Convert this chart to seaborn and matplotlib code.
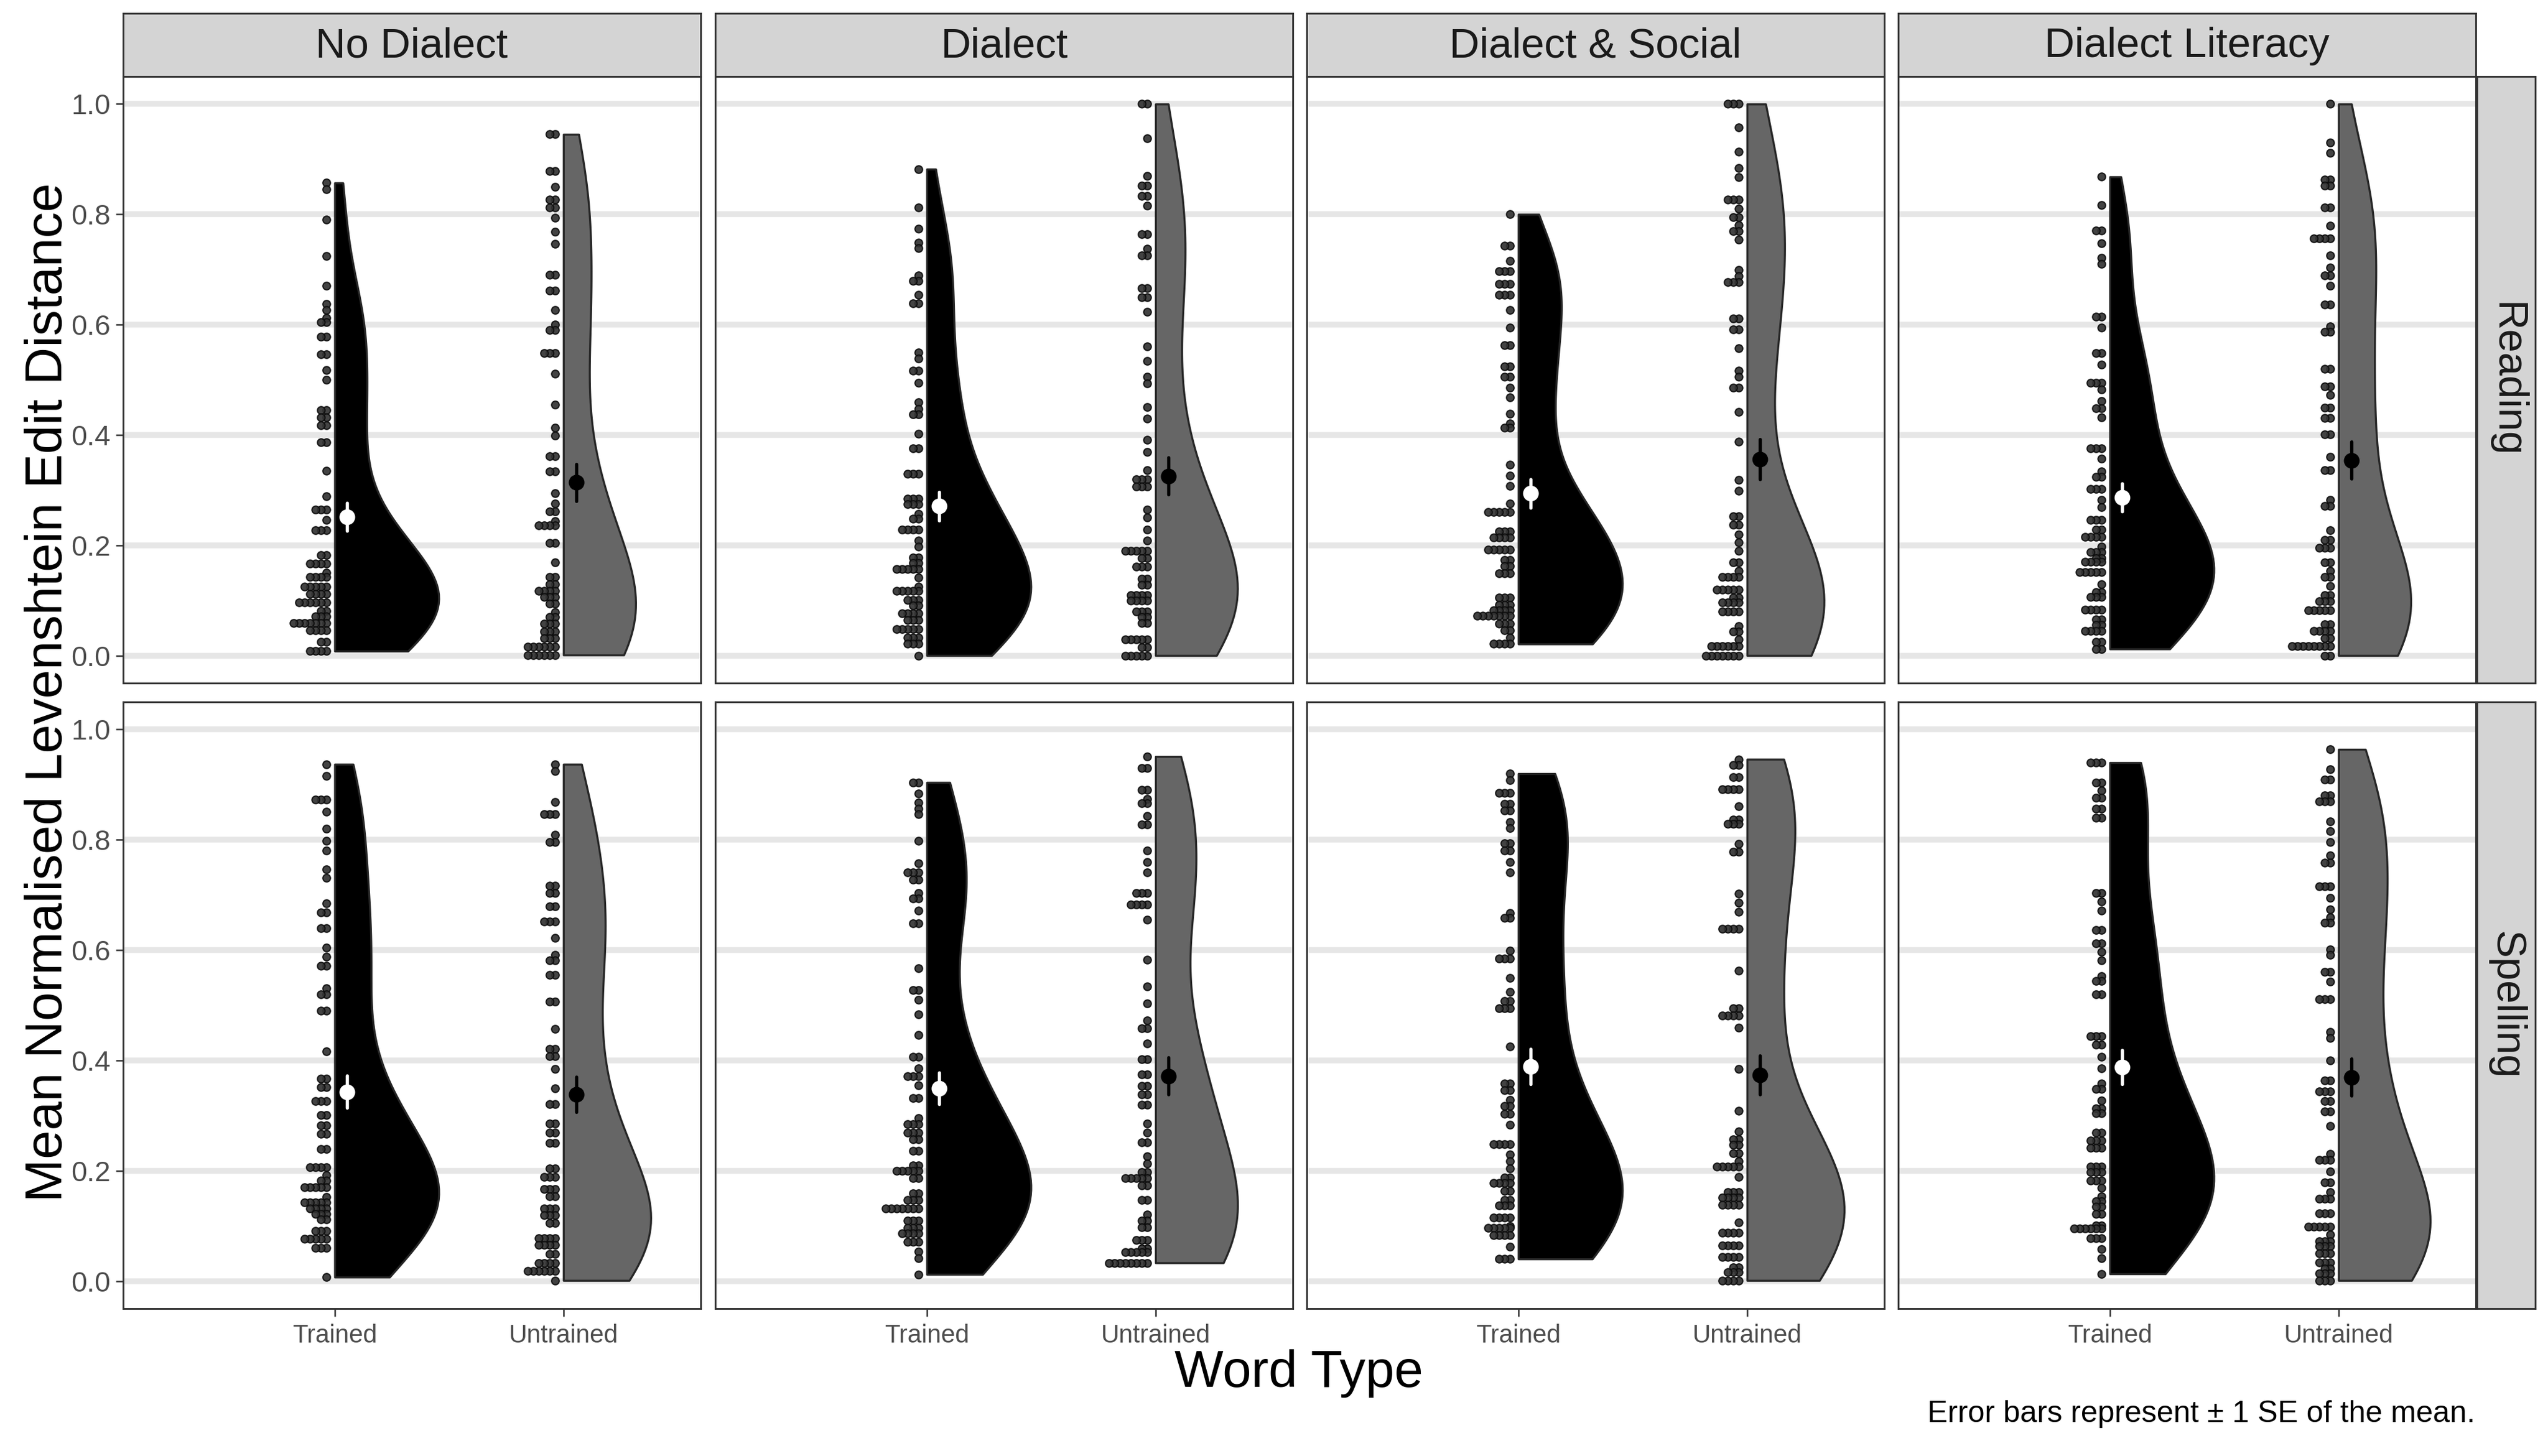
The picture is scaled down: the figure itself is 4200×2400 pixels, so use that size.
import numpy as np
import pandas as pd
import matplotlib.pyplot as plt
from matplotlib.ticker import FixedLocator
import seaborn as sns

conditions = ['No Dialect', 'Dialect', 'Dialect & Social', 'Dialect Literacy']
tasks = ['Reading', 'Spelling']
word_types = ['Trained', 'Untrained']

# each group: distinct scores (as binned in the dot stacks) and how many dots sit at each
nd_read_tr_vals = [0.857, 0.845, 0.790, 0.724, 0.671, 0.637, 0.626, 0.612, 0.605, 0.578, 0.546, 0.518, 0.500, 0.445, 0.432, 0.417, 0.387, 0.335, 0.289, 0.265, 0.246, 0.227, 0.182, 0.167, 0.150, 0.143, 0.125, 0.112, 0.096, 0.081, 0.071, 0.059, 0.046, 0.025, 0.008]
nd_read_tr_n = [1, 1, 1, 1, 1, 1, 1, 1, 2, 2, 2, 1, 1, 2, 2, 2, 2, 1, 1, 3, 1, 3, 2, 4, 1, 4, 5, 4, 6, 2, 3, 7, 4, 2, 4]
nd_read_un_vals = [0.945, 0.878, 0.850, 0.827, 0.812, 0.794, 0.768, 0.746, 0.690, 0.662, 0.626, 0.600, 0.590, 0.548, 0.511, 0.455, 0.413, 0.399, 0.361, 0.334, 0.294, 0.276, 0.261, 0.244, 0.236, 0.204, 0.169, 0.143, 0.129, 0.117, 0.106, 0.094, 0.079, 0.070, 0.058, 0.044, 0.031, 0.016, 0.001]
nd_read_un_n = [2, 2, 1, 2, 2, 1, 1, 1, 2, 2, 1, 1, 2, 3, 1, 1, 1, 1, 2, 2, 1, 1, 2, 1, 4, 2, 1, 2, 2, 4, 3, 2, 1, 2, 3, 3, 3, 6, 6]

di_read_tr_vals = [0.882, 0.812, 0.774, 0.749, 0.739, 0.689, 0.679, 0.654, 0.639, 0.549, 0.539, 0.516, 0.494, 0.459, 0.447, 0.437, 0.402, 0.376, 0.329, 0.284, 0.274, 0.257, 0.248, 0.228, 0.209, 0.198, 0.178, 0.168, 0.157, 0.141, 0.125, 0.117, 0.101, 0.091, 0.076, 0.064, 0.048, 0.033, 0.021, 0.000]
di_read_tr_n = [1, 1, 1, 1, 1, 1, 2, 1, 2, 1, 1, 2, 1, 1, 1, 2, 1, 2, 3, 3, 3, 1, 2, 4, 1, 1, 2, 2, 5, 1, 1, 5, 3, 2, 4, 3, 5, 3, 3, 1]
di_read_un_vals = [1.000, 0.938, 0.870, 0.852, 0.833, 0.816, 0.764, 0.738, 0.725, 0.666, 0.650, 0.623, 0.560, 0.534, 0.505, 0.493, 0.451, 0.430, 0.391, 0.369, 0.336, 0.320, 0.306, 0.265, 0.250, 0.228, 0.208, 0.190, 0.177, 0.161, 0.139, 0.128, 0.110, 0.100, 0.080, 0.070, 0.059, 0.029, 0.015, 0.000]
di_read_un_n = [2, 1, 1, 2, 2, 1, 2, 1, 2, 2, 2, 1, 1, 1, 1, 1, 1, 1, 1, 1, 1, 3, 3, 1, 1, 1, 1, 5, 2, 3, 2, 2, 4, 4, 3, 2, 2, 5, 2, 5]

ds_read_tr_vals = [0.800, 0.743, 0.716, 0.697, 0.674, 0.654, 0.627, 0.595, 0.563, 0.524, 0.506, 0.486, 0.468, 0.438, 0.421, 0.413, 0.346, 0.326, 0.307, 0.276, 0.260, 0.225, 0.214, 0.192, 0.173, 0.162, 0.149, 0.105, 0.092, 0.082, 0.072, 0.058, 0.046, 0.032, 0.021]
ds_read_tr_n = [1, 2, 1, 3, 3, 3, 1, 1, 2, 2, 2, 1, 1, 1, 1, 2, 1, 1, 1, 1, 5, 3, 4, 5, 2, 2, 3, 3, 3, 4, 7, 3, 2, 1, 4]
ds_read_un_vals = [1.000, 0.958, 0.914, 0.884, 0.867, 0.827, 0.810, 0.795, 0.781, 0.770, 0.754, 0.699, 0.688, 0.677, 0.611, 0.591, 0.557, 0.517, 0.505, 0.486, 0.442, 0.388, 0.319, 0.299, 0.253, 0.237, 0.220, 0.205, 0.190, 0.169, 0.153, 0.143, 0.119, 0.105, 0.096, 0.080, 0.053, 0.043, 0.029, 0.017, 0.000]
ds_read_un_n = [3, 1, 1, 1, 1, 3, 1, 2, 1, 2, 1, 1, 1, 3, 2, 2, 1, 1, 1, 2, 1, 1, 1, 1, 2, 2, 1, 1, 1, 2, 1, 4, 5, 2, 4, 4, 1, 2, 1, 6, 7]

dl_read_tr_vals = [0.868, 0.817, 0.771, 0.748, 0.721, 0.710, 0.614, 0.595, 0.548, 0.528, 0.495, 0.482, 0.461, 0.448, 0.432, 0.376, 0.357, 0.334, 0.324, 0.302, 0.282, 0.269, 0.246, 0.228, 0.215, 0.197, 0.188, 0.177, 0.170, 0.151, 0.129, 0.115, 0.106, 0.083, 0.065, 0.056, 0.045, 0.025, 0.012]
dl_read_tr_n = [1, 1, 2, 1, 1, 1, 2, 1, 2, 1, 3, 1, 1, 2, 1, 3, 1, 1, 2, 3, 1, 1, 3, 2, 4, 1, 3, 2, 4, 5, 1, 2, 3, 4, 2, 2, 4, 2, 2]
dl_read_un_vals = [1.000, 0.930, 0.911, 0.863, 0.852, 0.812, 0.779, 0.756, 0.725, 0.703, 0.689, 0.670, 0.636, 0.597, 0.587, 0.520, 0.488, 0.473, 0.449, 0.431, 0.401, 0.360, 0.336, 0.282, 0.271, 0.227, 0.210, 0.195, 0.169, 0.153, 0.142, 0.126, 0.110, 0.098, 0.082, 0.057, 0.045, 0.031, 0.017, 0.000]
dl_read_un_n = [1, 1, 1, 2, 2, 2, 1, 4, 1, 1, 2, 1, 2, 1, 2, 2, 2, 1, 2, 2, 2, 1, 2, 1, 2, 1, 2, 3, 2, 1, 2, 1, 2, 3, 5, 2, 4, 2, 8, 2]

nd_spell_tr_vals = [0.937, 0.916, 0.873, 0.851, 0.820, 0.798, 0.781, 0.746, 0.731, 0.685, 0.668, 0.640, 0.605, 0.588, 0.571, 0.531, 0.520, 0.490, 0.416, 0.367, 0.352, 0.326, 0.301, 0.282, 0.267, 0.239, 0.206, 0.192, 0.182, 0.170, 0.152, 0.143, 0.132, 0.122, 0.112, 0.091, 0.076, 0.060, 0.007]
nd_spell_tr_n = [1, 1, 3, 1, 1, 1, 1, 1, 1, 1, 2, 2, 1, 1, 2, 1, 2, 2, 1, 2, 2, 3, 2, 2, 2, 2, 4, 1, 2, 5, 1, 5, 4, 3, 2, 3, 5, 3, 1]
nd_spell_un_vals = [0.937, 0.925, 0.868, 0.847, 0.809, 0.796, 0.717, 0.704, 0.679, 0.652, 0.622, 0.591, 0.581, 0.555, 0.507, 0.457, 0.421, 0.408, 0.385, 0.349, 0.321, 0.285, 0.269, 0.250, 0.204, 0.189, 0.167, 0.153, 0.131, 0.119, 0.105, 0.078, 0.065, 0.049, 0.033, 0.018, 0.001]
nd_spell_un_n = [1, 1, 1, 3, 1, 2, 2, 2, 2, 3, 1, 1, 2, 2, 2, 1, 2, 2, 1, 1, 2, 2, 2, 2, 2, 3, 3, 2, 3, 3, 2, 4, 4, 2, 4, 6, 1]

di_spell_tr_vals = [0.904, 0.884, 0.867, 0.856, 0.846, 0.798, 0.757, 0.741, 0.728, 0.703, 0.694, 0.672, 0.648, 0.567, 0.528, 0.510, 0.483, 0.446, 0.406, 0.386, 0.371, 0.355, 0.332, 0.295, 0.284, 0.269, 0.257, 0.236, 0.210, 0.200, 0.186, 0.159, 0.147, 0.131, 0.110, 0.096, 0.086, 0.071, 0.053, 0.041, 0.012]
di_spell_tr_n = [2, 1, 1, 1, 1, 1, 1, 3, 2, 1, 2, 1, 2, 1, 2, 1, 1, 1, 2, 1, 3, 1, 2, 1, 3, 3, 2, 2, 2, 5, 2, 2, 3, 7, 3, 3, 4, 3, 1, 1, 1]
di_spell_un_vals = [0.951, 0.930, 0.890, 0.874, 0.866, 0.843, 0.828, 0.781, 0.760, 0.741, 0.703, 0.683, 0.655, 0.582, 0.534, 0.503, 0.472, 0.458, 0.431, 0.402, 0.375, 0.354, 0.338, 0.320, 0.286, 0.269, 0.251, 0.226, 0.213, 0.198, 0.187, 0.173, 0.147, 0.120, 0.109, 0.097, 0.074, 0.059, 0.052, 0.033]
di_spell_un_n = [1, 2, 2, 1, 2, 1, 2, 1, 1, 1, 3, 4, 1, 1, 1, 1, 1, 2, 1, 2, 2, 2, 2, 2, 1, 1, 2, 1, 1, 2, 5, 2, 2, 1, 2, 2, 3, 2, 5, 8]

ds_spell_tr_vals = [0.920, 0.908, 0.885, 0.865, 0.853, 0.832, 0.821, 0.794, 0.781, 0.760, 0.741, 0.667, 0.658, 0.599, 0.585, 0.550, 0.524, 0.508, 0.495, 0.425, 0.358, 0.346, 0.328, 0.317, 0.303, 0.283, 0.248, 0.229, 0.217, 0.204, 0.188, 0.178, 0.163, 0.147, 0.137, 0.115, 0.100, 0.096, 0.083, 0.062, 0.040]
ds_spell_tr_n = [1, 1, 3, 2, 2, 1, 1, 2, 2, 1, 1, 1, 2, 1, 3, 1, 1, 2, 3, 1, 2, 2, 1, 2, 2, 1, 4, 1, 1, 1, 2, 4, 2, 2, 3, 4, 1, 5, 4, 1, 3]
ds_spell_un_vals = [0.946, 0.936, 0.914, 0.892, 0.861, 0.837, 0.829, 0.793, 0.778, 0.702, 0.686, 0.669, 0.639, 0.563, 0.495, 0.481, 0.459, 0.384, 0.309, 0.271, 0.257, 0.247, 0.232, 0.217, 0.207, 0.189, 0.161, 0.151, 0.138, 0.106, 0.087, 0.064, 0.043, 0.025, 0.016, 0.001]
ds_spell_un_n = [1, 2, 2, 4, 1, 2, 3, 1, 2, 1, 1, 1, 4, 1, 2, 4, 1, 1, 1, 1, 2, 2, 2, 1, 5, 1, 3, 4, 4, 1, 4, 4, 4, 2, 3, 4]

dl_spell_tr_vals = [0.940, 0.904, 0.889, 0.876, 0.856, 0.840, 0.704, 0.688, 0.672, 0.636, 0.612, 0.597, 0.581, 0.553, 0.544, 0.520, 0.444, 0.429, 0.406, 0.386, 0.358, 0.348, 0.327, 0.313, 0.304, 0.269, 0.255, 0.242, 0.207, 0.197, 0.182, 0.169, 0.153, 0.145, 0.135, 0.122, 0.101, 0.095, 0.078, 0.058, 0.041, 0.013]
dl_spell_tr_n = [3, 2, 1, 2, 2, 2, 2, 1, 1, 2, 2, 1, 1, 1, 2, 2, 3, 2, 1, 1, 1, 2, 1, 2, 2, 2, 3, 3, 3, 3, 3, 1, 1, 2, 2, 2, 2, 6, 3, 1, 1, 1]
dl_spell_un_vals = [0.964, 0.928, 0.909, 0.881, 0.870, 0.833, 0.816, 0.796, 0.772, 0.759, 0.716, 0.695, 0.674, 0.660, 0.650, 0.601, 0.591, 0.561, 0.543, 0.511, 0.452, 0.441, 0.400, 0.364, 0.344, 0.326, 0.307, 0.281, 0.230, 0.219, 0.199, 0.179, 0.161, 0.149, 0.123, 0.098, 0.084, 0.072, 0.063, 0.050, 0.034, 0.023, 0.014, 0.001]
dl_spell_un_n = [1, 1, 2, 2, 3, 1, 1, 1, 1, 2, 3, 1, 1, 1, 2, 1, 1, 2, 1, 3, 1, 1, 1, 2, 3, 2, 2, 1, 1, 3, 1, 2, 1, 3, 3, 5, 1, 3, 3, 3, 3, 2, 3, 3]

groups = {
    ('No Dialect', 'Reading', 'Trained'): (nd_read_tr_vals, nd_read_tr_n),
    ('No Dialect', 'Reading', 'Untrained'): (nd_read_un_vals, nd_read_un_n),
    ('Dialect', 'Reading', 'Trained'): (di_read_tr_vals, di_read_tr_n),
    ('Dialect', 'Reading', 'Untrained'): (di_read_un_vals, di_read_un_n),
    ('Dialect & Social', 'Reading', 'Trained'): (ds_read_tr_vals, ds_read_tr_n),
    ('Dialect & Social', 'Reading', 'Untrained'): (ds_read_un_vals, ds_read_un_n),
    ('Dialect Literacy', 'Reading', 'Trained'): (dl_read_tr_vals, dl_read_tr_n),
    ('Dialect Literacy', 'Reading', 'Untrained'): (dl_read_un_vals, dl_read_un_n),
    ('No Dialect', 'Spelling', 'Trained'): (nd_spell_tr_vals, nd_spell_tr_n),
    ('No Dialect', 'Spelling', 'Untrained'): (nd_spell_un_vals, nd_spell_un_n),
    ('Dialect', 'Spelling', 'Trained'): (di_spell_tr_vals, di_spell_tr_n),
    ('Dialect', 'Spelling', 'Untrained'): (di_spell_un_vals, di_spell_un_n),
    ('Dialect & Social', 'Spelling', 'Trained'): (ds_spell_tr_vals, ds_spell_tr_n),
    ('Dialect & Social', 'Spelling', 'Untrained'): (ds_spell_un_vals, ds_spell_un_n),
    ('Dialect Literacy', 'Spelling', 'Trained'): (dl_spell_tr_vals, dl_spell_tr_n),
    ('Dialect Literacy', 'Spelling', 'Untrained'): (dl_spell_un_vals, dl_spell_un_n),
}

SLAB_W = 0.455     # max half-width of the density slab (x units)

# long table of observations + dot positions (stacked leftwards from the slab)
rows = []
for (cond, task, wt), (vals, counts) in groups.items():
    pos = word_types.index(wt) + 1.0
    for v, n in zip(vals, counts):
        for k in range(n):
            rows.append((cond, task, wt, pos, v, pos - 0.037 - k * 0.0238))
df = pd.DataFrame(rows, columns=['condition', 'task', 'word_type', 'xpos', 'value', 'xdot'])
df['side'] = 'right'
df['xslab'] = df['xpos'] + SLAB_W / 2   # seaborn centres the split half on pos - width/2
df['xpt'] = df['xpos'] + 0.055

sns.set_theme(style='white')
plt.rcParams['font.family'] = ['Liberation Sans', 'DejaVu Sans']

W, H = 4200, 2400
fig = plt.figure(figsize=(14, 8), dpi=300)

panel_left = [203, 1179, 2154, 3129]
panel_top = [126, 1157]
panel_w, panel_h = 952, 1000
strip_h, strip_w = 104, 96

fill_cols = {'Trained': 'black', 'Untrained': '#666666'}
point_cols = {'Trained': 'white', 'Untrained': 'black'}

for r, task in enumerate(tasks):
    for c, cond in enumerate(conditions):
        x0, y0 = panel_left[c], panel_top[r]
        ax = fig.add_axes([x0 / W, 1 - (y0 + panel_h) / H, panel_w / W, panel_h / H])
        sub = df[(df['condition'] == cond) & (df['task'] == task)]

        sns.violinplot(data=sub, x='xslab', y='value', hue='side', hue_order=['left', 'right'],
                       palette={'left': 'black', 'right': 'black'}, split=True, dodge=False,
                       native_scale=True, cut=0, inner=None, density_norm='area', common_norm=True,
                       width=SLAB_W, linecolor='#262626', linewidth=0.8, legend=False, ax=ax)
        polys = [p for p in ax.collections]
        if len(polys) >= 2:
            polys[1].set_facecolor(fill_cols['Untrained'])

        sns.scatterplot(data=sub, x='xdot', y='value', s=9, color='#333333', edgecolor='#0d0d0d',
                        linewidth=0.5, alpha=0.92, legend=False, zorder=3, ax=ax)

        for wt in word_types:
            sns.pointplot(data=sub[sub['word_type'] == wt], x='xpt', y='value', native_scale=True,
                          errorbar='se', color=point_cols[wt], markersize=4.2, linestyle='none',
                          err_kws={'linewidth': 1.3, 'zorder': 6}, zorder=6, ax=ax)

        ax.set_xlim(0.075, 2.6)
        ax.set_ylim(-0.05, 1.05)
        ax.xaxis.set_major_locator(FixedLocator([1, 2]))
        ax.yaxis.set_major_locator(FixedLocator([0, 0.2, 0.4, 0.6, 0.8, 1.0]))
        ax.set_xticklabels(word_types)
        ax.set_yticklabels(['0.0', '0.2', '0.4', '0.6', '0.8', '1.0'])
        ax.set_xlabel('')
        ax.set_ylabel('')
        ax.set_axisbelow(True)
        ax.yaxis.grid(True, color='#E6E6E6', linewidth=2.3)
        ax.xaxis.grid(False)
        for sp in ax.spines.values():
            sp.set_visible(True)
            sp.set_color('#333333')
            sp.set_linewidth(0.7)
        ax.tick_params(axis='y', length=3, width=0.6, color='#333333', labelcolor='#4D4D4D',
                       labelsize=11.2, left=(c == 0), labelleft=(c == 0), pad=2)
        ax.tick_params(axis='x', length=3, width=0.6, color='#333333', labelcolor='#4D4D4D',
                       labelsize=10, bottom=(r == 1), labelbottom=(r == 1), pad=3)

        # facet strips
        if r == 0:
            sax = fig.add_axes([x0 / W, 1 - y0 / H, panel_w / W, strip_h / H])
            sax.set_facecolor('#D4D4D4')
            sax.set_xticks([])
            sax.set_yticks([])
            for sp in sax.spines.values():
                sp.set_color('#333333')
                sp.set_linewidth(0.7)
            sax.text(0.5, 0.48, cond, ha='center', va='center', fontsize=16.5, color='#1A1A1A',
                     transform=sax.transAxes)
        if c == 3:
            rax = fig.add_axes([(x0 + panel_w + 2) / W, 1 - (y0 + panel_h) / H, strip_w / W, panel_h / H])
            rax.set_facecolor('#D4D4D4')
            rax.set_xticks([])
            rax.set_yticks([])
            for sp in rax.spines.values():
                sp.set_color('#333333')
                sp.set_linewidth(0.7)
            rax.text(0.5, 0.5, task, ha='center', va='center', rotation=-90, fontsize=16.5,
                     color='#1A1A1A', transform=rax.transAxes)

fig.text(80 / W, 1 - 1141 / H, 'Mean Normalised Levenshtein Edit Distance', rotation=90,
         ha='center', va='center', fontsize=20.5, color='black')
fig.text(2141 / W, 1 - 2264 / H, 'Word Type', ha='center', va='center', fontsize=20.5, color='black')
fig.text(4080 / W, 1 - 2331 / H, 'Error bars represent \u00b1 1 SE of the mean.', ha='right',
         va='center', fontsize=12, color='black')

fig.savefig('out.png', dpi=300)
